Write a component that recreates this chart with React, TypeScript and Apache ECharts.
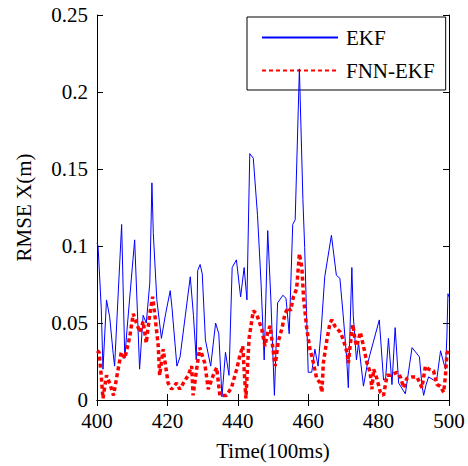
import React, { useEffect, useRef } from "react";
import * as echarts from "echarts";

// EKF position error (RMSE along X, metres) against time in units of 100 ms
const ekfTime = [
  400.0, 400.3, 401.2, 401.7, 402.7, 403.6, 404.6, 405.0, 407.0, 407.9, 408.5, 410.7, 412.1, 413.1,
  414.0, 415.0, 415.6, 416.0, 417.0, 418.3, 419.5, 420.8, 421.3, 422.7, 423.6, 426.5, 427.4, 428.2,
  428.6, 429.3, 429.9, 430.8, 432.3, 433.7, 434.6, 435.5, 436.5, 437.5, 438.4, 439.6, 440.8, 441.8,
  442.6, 443.4, 444.4, 445.6, 446.6, 447.5, 448.5, 449.4, 450.4, 451.3, 452.8, 453.7, 454.6, 455.6,
  456.3, 457.5, 458.5, 459.0, 460.0, 461.0, 461.9, 462.8, 463.7, 464.7, 466.6, 468.0, 469.0, 469.9,
  470.9, 471.4, 472.4, 472.8, 473.7, 474.3, 475.7, 476.7, 477.6, 480.2, 481.4, 482.0, 482.8, 483.8,
  484.7, 485.7, 487.6, 489.5, 491.6, 492.3, 492.8, 493.5, 494.2, 495.6, 496.5, 497.6, 498.5, 499.0,
  499.4, 499.7, 500.0,
];
const ekfRmse = [
  0.102, 0.1, 0.06, 0.02, 0.065, 0.054, 0.03, 0.022, 0.114, 0.027, 0.045, 0.104, 0.02, 0.055,
  0.05, 0.076, 0.141, 0.108, 0.065, 0.04, 0.056, 0.071, 0.06, 0.022, 0.028, 0.08, 0.055, 0.026,
  0.084, 0.088, 0.082, 0.039, 0.022, 0.05, 0.043, 0.002, 0.031, 0.016, 0.086, 0.091, 0.067, 0.086,
  0.065, 0.16, 0.157, 0.12, 0.076, 0.026, 0.11, 0.065, 0.003, 0.063, 0.068, 0.066, 0.043, 0.114,
  0.117, 0.215, 0.13, 0.099, 0.018, 0.018, 0.033, 0.022, 0.046, 0.08, 0.107, 0.081, 0.079, 0.056,
  0.028, 0.008, 0.086, 0.055, 0.026, 0.037, 0.009, 0.022, 0.03, 0.052, 0.013, 0.014, 0.04, 0.01,
  0.047, 0.011, 0.004, 0.034, 0.028, 0.01, 0.003, 0.01, 0.015, 0.013, 0.013, 0.032, 0.024, 0.02,
  0.041, 0.069, 0.067,
];

// FNN-EKF position error
const fnnTime = [
  400.0, 400.6, 401.2, 401.7, 402.7, 403.6, 404.7, 406.0, 406.9, 407.9, 409.3, 410.3, 411.2, 412.2,
  413.1, 414.0, 415.0, 415.8, 416.4, 417.4, 417.8, 418.8, 420.2, 421.2, 422.6, 423.5, 424.8, 425.9,
  426.9, 427.3, 428.3, 429.2, 430.6, 431.6, 433.0, 434.0, 434.9, 436.8, 438.2, 439.7, 440.6, 441.4,
  442.3, 443.2, 444.4, 445.3, 446.8, 447.7, 448.6, 449.2, 450.0, 450.6, 451.5, 452.5, 453.4, 454.3,
  455.0, 455.8, 456.7, 457.5, 458.2, 458.7, 459.6, 460.5, 461.5, 462.4, 463.4, 463.9, 464.3, 465.3,
  466.2, 466.7, 467.6, 469.1, 470.0, 471.0, 471.4, 472.1, 472.7, 473.3, 473.8, 474.8, 475.7, 476.7,
  477.6, 478.1, 478.6, 479.5, 480.5, 481.4, 482.4, 483.3, 485.2, 486.2, 487.1, 488.0, 489.5, 490.9,
  492.3, 493.3, 494.2, 495.6, 496.6, 497.5, 498.5, 499.0, 499.4, 500.0,
];
const fnnRmse = [
  0.032, 0.031, 0.016, 0.001, 0.016, 0.011, 0.003, 0.02, 0.031, 0.027, 0.041, 0.056, 0.05, 0.044,
  0.051, 0.037, 0.056, 0.067, 0.056, 0.035, 0.016, 0.033, 0.011, 0.007, 0.011, 0.007, 0.012, 0.016,
  0.022, 0.003, 0.02, 0.034, 0.024, 0.007, 0.016, 0.021, 0.003, 0.003, 0.008, 0.02, 0.029, 0.035,
  0.001, 0.04, 0.058, 0.056, 0.046, 0.035, 0.045, 0.048, 0.033, 0.022, 0.038, 0.046, 0.056, 0.06,
  0.058, 0.067, 0.072, 0.095, 0.086, 0.066, 0.046, 0.033, 0.024, 0.014, 0.011, 0.005, 0.024, 0.039,
  0.05, 0.052, 0.048, 0.044, 0.039, 0.031, 0.024, 0.039, 0.049, 0.039, 0.035, 0.044, 0.035, 0.024,
  0.018, 0.007, 0.02, 0.014, 0.005, 0.003, 0.016, 0.016, 0.018, 0.015, 0.008, 0.014, 0.015, 0.015,
  0.008, 0.022, 0.02, 0.019, 0.01, 0.009, 0.005, 0.016, 0.03, 0.033,
];

const seriesNames = ["EKF", "FNN-EKF"];
const xTicks = { min: 400, max: 500, interval: 20 };
const yTicks = { min: 0, max: 0.25, interval: 0.05 };

const FONT = "Liberation Serif";

const pairs = (xs: number[], ys: number[]) => xs.map((x, i) => [x, ys[i]]);

export default function App() {
  const ref = useRef<HTMLDivElement>(null);

  useEffect(() => {
    if (!ref.current) return;
    const chart = echarts.init(ref.current, undefined, { renderer: "svg" });

    const tickStyle = { inside: true, length: 6, lineStyle: { color: "#000", width: 1 } };
    const lineStyle = { lineStyle: { color: "#000", width: 1 } };

    chart.setOption({
      animation: false,
      backgroundColor: "#fff",
      grid: { left: 97, top: 15, width: 352, height: 389, containLabel: false },
      legend: {
        data: seriesNames,
        orient: "vertical",
        left: 247,
        top: 17,
        width: 197,
        padding: [10, 11, 9, 14],
        itemWidth: 76,
        itemHeight: 14,
        itemGap: 12,
        borderColor: "#000",
        borderWidth: 1,
        backgroundColor: "#fff",
        // the legend sits beneath the data lines, so tall peaks cross its box
        z: 1,
        // legend keys show only the line stroke, no marker
        itemStyle: { opacity: 0 },
        textStyle: { fontFamily: FONT, fontSize: 21, color: "#000", padding: [0, 0, 0, 3] },
      },
      xAxis: [
        {
          type: "value",
          ...xTicks,
          position: "bottom",
          axisLine: lineStyle,
          axisTick: tickStyle,
          splitLine: { show: false },
          axisLabel: { fontFamily: FONT, fontSize: 21, color: "#000", margin: 10 },
          name: "Time(100ms)",
          nameLocation: "middle",
          nameGap: 40,
          nameTextStyle: { fontFamily: FONT, fontSize: 21, color: "#000" },
        },
        {
          type: "value",
          ...xTicks,
          position: "top",
          axisLine: lineStyle,
          axisTick: tickStyle,
          axisLabel: { show: false },
          splitLine: { show: false },
        },
      ],
      yAxis: [
        {
          type: "value",
          ...yTicks,
          position: "left",
          axisLine: lineStyle,
          axisTick: tickStyle,
          splitLine: { show: false },
          axisLabel: { fontFamily: FONT, fontSize: 21, color: "#000", margin: 9 },
          name: "RMSE X(m)",
          nameLocation: "middle",
          nameGap: 63,
          nameTextStyle: { fontFamily: FONT, fontSize: 21, color: "#000" },
        },
        {
          type: "value",
          ...yTicks,
          position: "right",
          axisLine: lineStyle,
          axisTick: tickStyle,
          axisLabel: { show: false },
          splitLine: { show: false },
        },
      ],
      series: [
        {
          name: seriesNames[0],
          type: "line",
          data: pairs(ekfTime, ekfRmse),
          symbol: "none",
          color: "#0000ff",
          lineStyle: { color: "#0000ff", width: 1 },
          z: 5,
        },
        {
          name: seriesNames[1],
          type: "line",
          data: pairs(fnnTime, fnnRmse),
          symbol: "none",
          color: "#ff0000",
          lineStyle: { color: "#ff0000", width: 3.5, type: [4, 3], cap: "butt" },
          z: 6,
        },
      ],
    });

    return () => chart.dispose();
  }, []);

  return (
    <div
      ref={ref}
      style={{ position: "absolute", left: 0, top: 0, width: 468, height: 466 }}
    />
  );
}
